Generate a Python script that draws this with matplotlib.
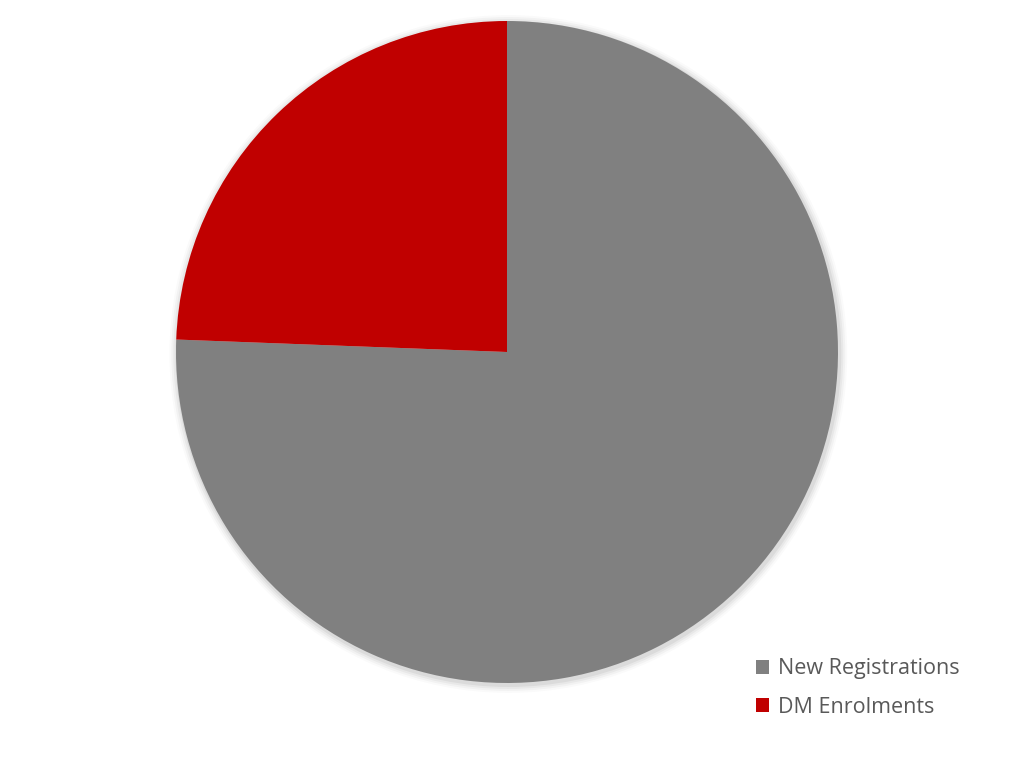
import matplotlib
matplotlib.use("Agg")
import matplotlib.pyplot as plt
from matplotlib.patches import Circle

labels = ["New Registrations", "DM Enrolments"]
values = [75.6, 24.4]
colors = ["#808080", "#C00000"]

W, H = 1016, 761
fig = plt.figure(figsize=(W / 100, H / 100), dpi=100)
cx, cy, r = 507, 761 - 352, 331
ax = fig.add_axes([(cx - r) / W, (cy - r) / H, 2 * r / W, 2 * r / H])

# soft shadow
for i, a in enumerate([0.05, 0.04, 0.03, 0.02]):
    ax.add_patch(Circle((0.004, -0.006), 1 + 0.006 * (i + 1), color="black",
                        alpha=a, lw=0, zorder=0, clip_on=False))

wedges, _ = ax.pie(values, colors=colors, startangle=90, counterclock=False,
                   radius=1, wedgeprops=dict(linewidth=0))
for w in wedges:
    w.set_zorder(2)
ax.set_xlim(-1, 1)
ax.set_ylim(-1, 1)
ax.set_aspect("equal")
ax.axis("off")

leg = fig.legend(wedges, labels, loc="upper left", bbox_to_anchor=(737 / W, 1 - 639 / H),
                 frameon=False, labelcolor="#595959", handlelength=0.6,
                 handleheight=0.6, handletextpad=0.4, labelspacing=0.8,
                 prop={"family": "Open Sans", "size": 15.5})
fig.savefig("out.png", dpi=100)
